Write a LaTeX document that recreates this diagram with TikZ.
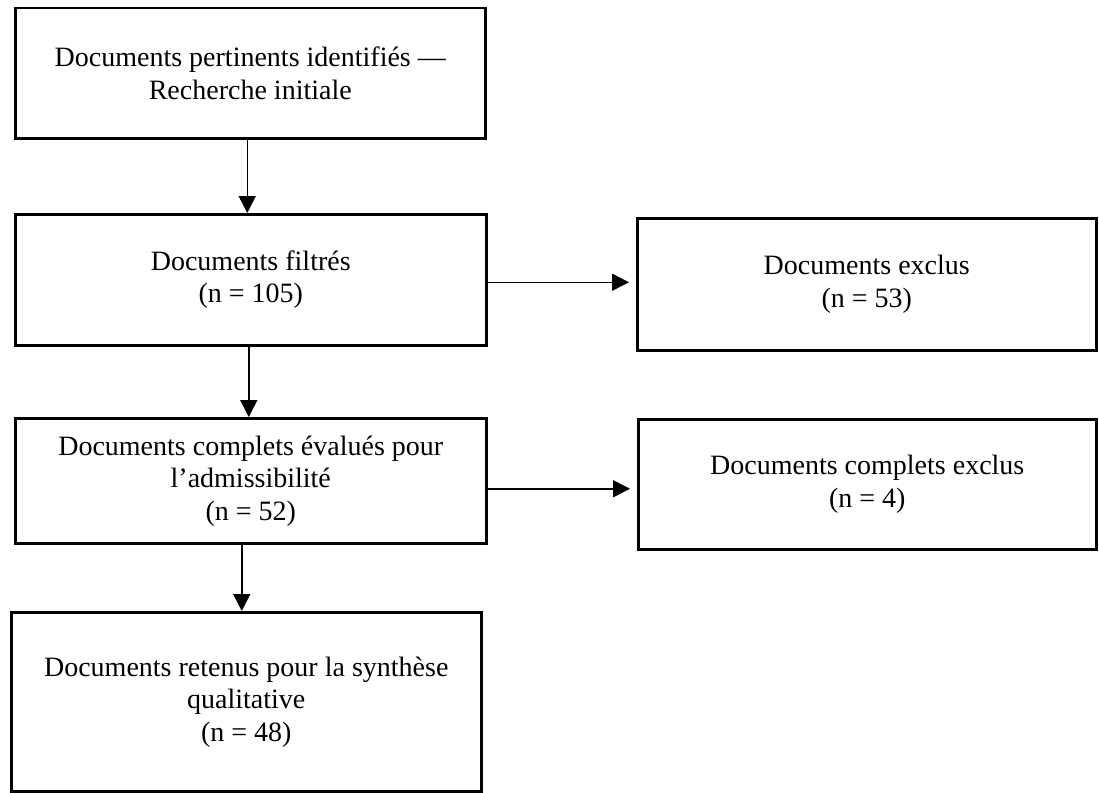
\documentclass[tikz,border=0pt]{standalone}
\usepackage{fontspec}
\setmainfont{Liberation Serif}
\usetikzlibrary{arrows.meta}

\begin{document}
\begin{tikzpicture}[x=1pt, y=-1pt, >={Triangle[length=17pt, width=17pt]},
    box/.style={draw, line width=2.5pt, align=center, inner sep=0pt, anchor=north west,
      font=\fontsize{28}{32.5}\selectfont},
    flow/.style={->, line width=1.5pt}]
    \useasboundingbox (0,0) rectangle (1099,792);
    % left column
    \node[box, minimum width=470pt, minimum height=130pt] (pertinents) at (14,7)
      {Documents pertinents identifiés —\\Recherche initiale};
    \node[box, minimum width=471pt, minimum height=131pt] (filtres) at (14,213)
      {Documents filtrés\\(n = 105)};
    \node[box, minimum width=471pt, minimum height=125pt] (admis) at (14,417)
      {Documents complets évalués pour\\l’admissibilité\\(n = 52)};
    \node[box, minimum width=470pt, minimum height=179pt] (retenus) at (10,611)
      {Documents retenus pour la synthèse\\qualitative\\(n = 48)};
    % right column
    \node[box, minimum width=459pt, minimum height=132pt] (exclus) at (636,217)
      {Documents exclus\\(n = 53)};
    \node[box, minimum width=458pt, minimum height=130pt] (complets) at (637,418)
      {Documents complets exclus\\(n = 4)};
    % arrows
    \draw[flow] ([xshift=-3pt]pertinents.south) -- ([xshift=-3pt]pertinents.south |- filtres.north);
    \draw[flow] ([xshift=-2pt]filtres.south) -- ([xshift=-2pt]filtres.south |- admis.north);
    \draw[flow] ([xshift=-9pt]admis.south) -- ([xshift=-9pt]admis.south |- retenus.north);
    \draw[flow, shorten >=7pt] ([yshift=-2.5pt]filtres.east) -- ([yshift=-2.5pt]filtres.east -| exclus.west);
    \draw[flow, shorten >=7pt] ([yshift=-8pt]admis.east) -- ([yshift=-8pt]admis.east -| complets.west);
\end{tikzpicture}
\end{document}
